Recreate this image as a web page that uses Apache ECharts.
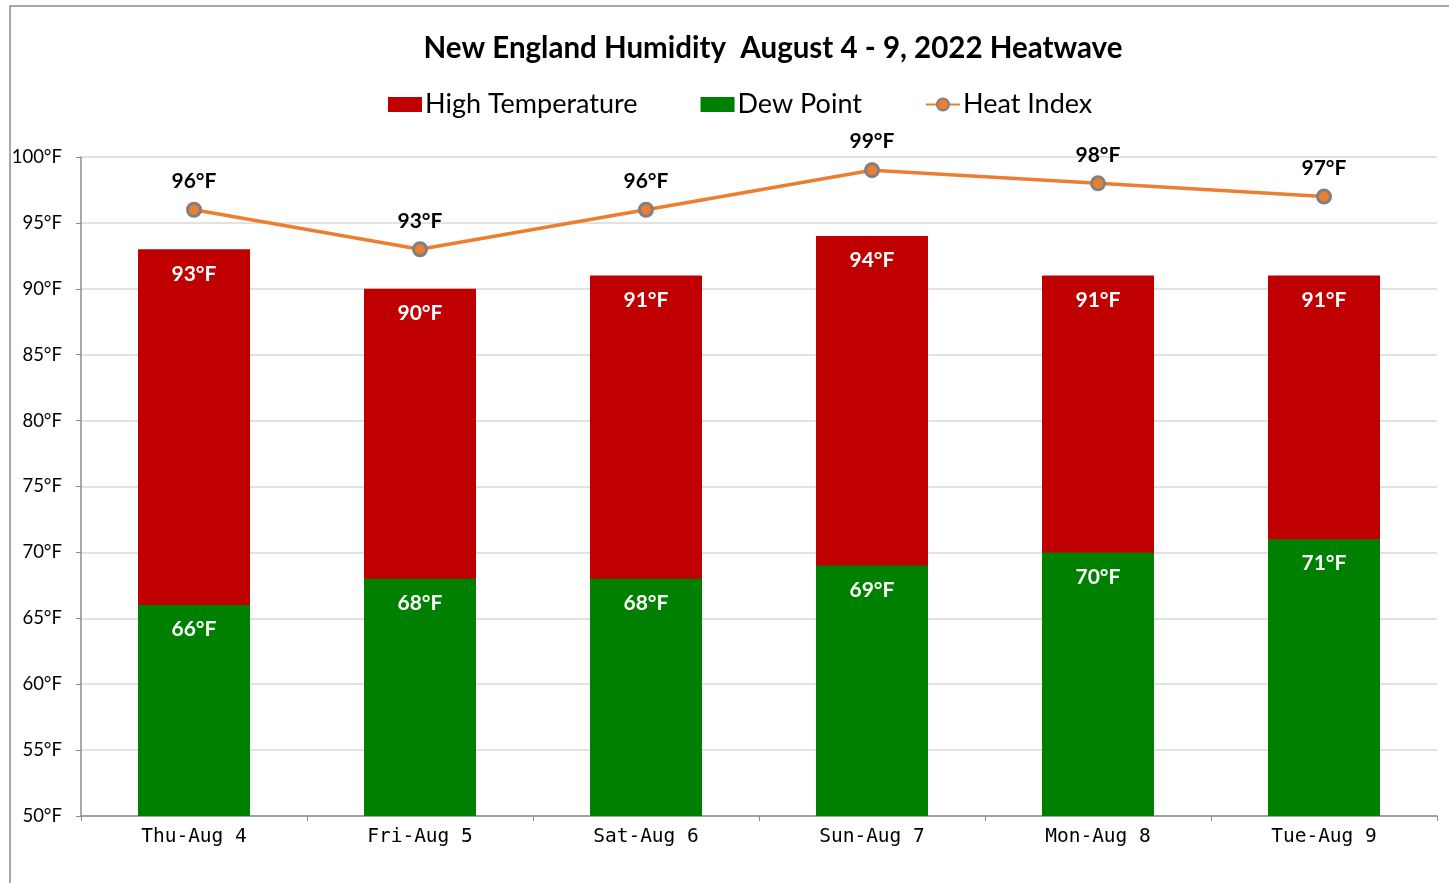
<!DOCTYPE html>
<html>
<head>
<meta charset="utf-8">
<title>New England Humidity</title>
<script src="https://cdn.jsdelivr.net/npm/echarts@6/dist/echarts.min.js"></script>
<style>
  html, body { margin: 0; padding: 0; background: #fff; }
  #chart { width: 1449px; height: 883px; }
</style>
</head>
<body>
<div id="chart"></div>
<script>
// data
const days = ["Thu-Aug 4", "Fri-Aug 5", "Sat-Aug 6", "Sun-Aug 7", "Mon-Aug 8", "Tue-Aug 9"];
const highTemp = [93, 90, 91, 94, 91, 91];
const dewPoint = [66, 68, 68, 69, 70, 71];
const heatIndex = [96, 93, 96, 99, 98, 97];

const chart = echarts.init(document.getElementById("chart"));

const barLabel = {
  show: true,
  position: "insideTop",
  distance: 14,
  color: "#fff",
  fontFamily: "Lato",
  fontWeight: "bold",
  fontSize: 21,
  formatter: "{c}°F"
};

chart.setOption({
  animation: false,
  // thin frame around the chart area
  graphic: [{
    type: "rect",
    shape: { x: 10, y: 6, width: 1500, height: 1000 },
    style: { fill: "none", stroke: "#8c8c8c", lineWidth: 1.5 },
    silent: true
  }],
  title: {
    text: "New England Humidity  August 4 - 9, 2022 Heatwave",
    left: 768,
    textAlign: "center",
    top: 28,
    textStyle: { fontFamily: "Lato", fontWeight: "bold", fontSize: 29.5, color: "#000" }
  },
  legend: {
    left: 383,
    top: 86,
    itemWidth: 34,
    itemHeight: 15,
    itemGap: 63,
    textStyle: { fontFamily: "Lato", fontSize: 27, color: "#000", padding: [0, 0, 0, -2] },
    data: [
      { name: "High Temperature", icon: "rect" },
      { name: "Dew Point", icon: "rect" },
      "Heat Index"
    ]
  },
  grid: { left: 81, right: 12, top: 157, bottom: 67 },
  xAxis: {
    type: "category",
    data: days,
    boundaryGap: true,
    axisLine: { lineStyle: { color: "#8c8c8c", width: 1.5 } },
    axisTick: { show: true, length: 5, lineStyle: { color: "#8c8c8c" } },
    axisLabel: { fontFamily: "DejaVu Sans Mono", fontSize: 19.5, color: "#000", margin: 11 }
  },
  yAxis: {
    type: "value",
    min: 50,
    max: 100,
    interval: 5,
    axisLine: { show: true, lineStyle: { color: "#8c8c8c", width: 1.5 } },
    axisTick: { show: true, length: 5, lineStyle: { color: "#8c8c8c" } },
    axisLabel: { fontFamily: "Lato", fontSize: 18.5, color: "#000", margin: 19, formatter: "{value}°F" },
    splitLine: { lineStyle: { color: "#d9d9d9", width: 1.5 } }
  },
  series: [
    {
      name: "High Temperature",
      type: "bar",
      data: highTemp,
      barWidth: 112,
      itemStyle: { color: "#c00000" },
      label: barLabel
    },
    {
      name: "Dew Point",
      type: "bar",
      data: dewPoint,
      barWidth: 112,
      barGap: "-100%",
      itemStyle: { color: "#008000" },
      label: barLabel
    },
    {
      name: "Heat Index",
      type: "line",
      data: heatIndex,
      symbol: "circle",
      symbolSize: 13,
      lineStyle: { color: "#ed7d31", width: 3.5 },
      itemStyle: { color: "#ed7d31", borderColor: "#808080", borderWidth: 3 },
      label: {
        show: true,
        position: "top",
        distance: 10,
        color: "#000",
        fontFamily: "Lato",
        fontWeight: "bold",
        fontSize: 21,
        formatter: "{c}°F"
      }
    }
  ]
});
</script>
</body>
</html>
